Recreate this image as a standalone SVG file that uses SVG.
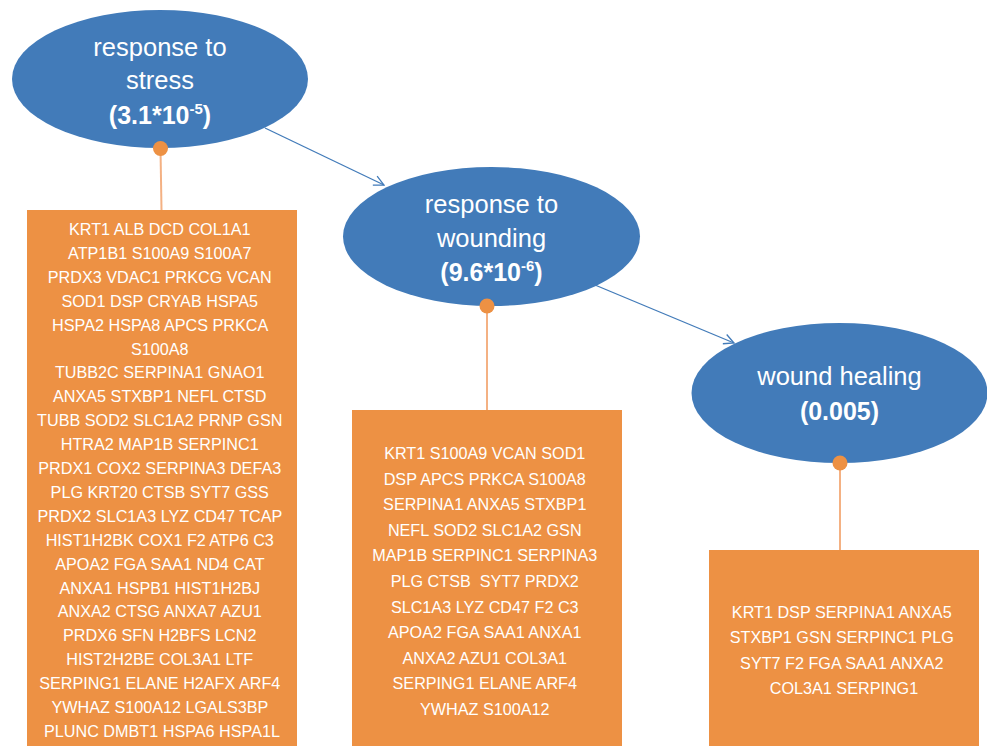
<svg xmlns="http://www.w3.org/2000/svg" width="987" height="746" viewBox="0 0 987 746">
<defs>
<style>
.ell{fill:#427BB9}
.box{fill:#ED9144}
.t{font-family:"Liberation Sans",Arial,sans-serif;fill:#fff;text-anchor:middle}
.et{font-size:25.5px}
.eb{font-size:25px;font-weight:bold}
.bt{font-size:16.2px}
.link{stroke:#F4B183;stroke-width:2;fill:none}
.dot{fill:#ED9144}
.arr{stroke:#427BB9;stroke-width:1.3;fill:none}
</style>
<marker id="ah" viewBox="0 0 12 12" refX="11" refY="6" markerWidth="12" markerHeight="12" markerUnits="userSpaceOnUse" orient="auto">
<path d="M1,1 L11,6 L1,11" fill="none" stroke="#427BB9" stroke-width="1.3"/>
</marker>
</defs>
<rect width="987" height="746" fill="#fff"/>
<g id="connectors">
<line class="arr" x1="265" y1="128" x2="384" y2="185" marker-end="url(#ah)"/>
<line class="arr" x1="595" y1="285" x2="734" y2="343" marker-end="url(#ah)"/>
<line class="link" x1="160.5" y1="149" x2="161.5" y2="210"/>
<line class="link" x1="487" y1="306" x2="487" y2="410"/>
<line class="link" x1="840" y1="463" x2="840" y2="550"/>
</g>
<g id="stress">
<ellipse class="ell" cx="160" cy="79" rx="148" ry="69"/>
<text class="t et" x="160" y="56">response to</text>
<text class="t et" x="160" y="89">stress</text>
<text class="t eb" x="160" y="124">(3.1*10<tspan font-size="15" dy="-10">-5</tspan><tspan dy="10">)</tspan></text>
<circle class="dot" cx="160.5" cy="148.5" r="7.5"/>
</g>
<g id="wounding">
<ellipse class="ell" cx="491.5" cy="236.5" rx="148.5" ry="69.5"/>
<text class="t et" x="491.5" y="213">response to</text>
<text class="t et" x="491.5" y="247">wounding</text>
<text class="t eb" x="491.5" y="281">(9.6*10<tspan font-size="15" dy="-10">-6</tspan><tspan dy="10">)</tspan></text>
<circle class="dot" cx="487" cy="306" r="7.5"/>
</g>
<g id="healing">
<ellipse class="ell" cx="839.5" cy="393" rx="148" ry="70"/>
<text class="t et" x="839.5" y="385">wound healing</text>
<text class="t eb" x="839.5" y="420">(0.005)</text>
<circle class="dot" cx="840" cy="463" r="7.5"/>
</g>
<g id="box-stress">
<rect class="box" x="27" y="210" width="270" height="540"/>
<text class="t bt">
<tspan x="162" y="235">KRT1 ALB DCD COL1A1</tspan>
<tspan x="162" y="258.9">ATP1B1 S100A9 S100A7</tspan>
<tspan x="162" y="282.8">PRDX3 VDAC1 PRKCG VCAN</tspan>
<tspan x="162" y="306.7">SOD1 DSP CRYAB HSPA5</tspan>
<tspan x="162" y="330.6">HSPA2 HSPA8 APCS PRKCA</tspan>
<tspan x="162" y="354.5">S100A8</tspan>
<tspan x="162" y="378.4">TUBB2C SERPINA1 GNAO1</tspan>
<tspan x="162" y="402.3">ANXA5 STXBP1 NEFL CTSD</tspan>
<tspan x="162" y="426.2">TUBB SOD2 SLC1A2 PRNP GSN</tspan>
<tspan x="162" y="450.1">HTRA2 MAP1B SERPINC1</tspan>
<tspan x="162" y="474">PRDX1 COX2 SERPINA3 DEFA3</tspan>
<tspan x="162" y="497.9">PLG KRT20 CTSB SYT7 GSS</tspan>
<tspan x="162" y="521.8">PRDX2 SLC1A3 LYZ CD47 TCAP</tspan>
<tspan x="162" y="545.7">HIST1H2BK COX1 F2 ATP6 C3</tspan>
<tspan x="162" y="569.6">APOA2 FGA SAA1 ND4 CAT</tspan>
<tspan x="162" y="593.5">ANXA1 HSPB1 HIST1H2BJ</tspan>
<tspan x="162" y="617.4">ANXA2 CTSG ANXA7 AZU1</tspan>
<tspan x="162" y="641.3">PRDX6 SFN H2BFS LCN2</tspan>
<tspan x="162" y="665.2">HIST2H2BE COL3A1 LTF</tspan>
<tspan x="162" y="689.1">SERPING1 ELANE H2AFX ARF4</tspan>
<tspan x="162" y="713">YWHAZ S100A12 LGALS3BP</tspan>
<tspan x="162" y="736.9">PLUNC DMBT1 HSPA6 HSPA1L</tspan>
</text>
</g>
<g id="box-wounding">
<rect class="box" x="352" y="410" width="270" height="340"/>
<text class="t bt" xml:space="preserve">
<tspan x="487" y="459">KRT1 S100A9 VCAN SOD1</tspan>
<tspan x="487" y="484.6">DSP APCS PRKCA S100A8</tspan>
<tspan x="487" y="510.2">SERPINA1 ANXA5 STXBP1</tspan>
<tspan x="487" y="535.8">NEFL SOD2 SLC1A2 GSN</tspan>
<tspan x="487" y="561.4">MAP1B SERPINC1 SERPINA3</tspan>
<tspan x="487" y="587">PLG CTSB  SYT7 PRDX2</tspan>
<tspan x="487" y="612.6">SLC1A3 LYZ CD47 F2 C3</tspan>
<tspan x="487" y="638.2">APOA2 FGA SAA1 ANXA1</tspan>
<tspan x="487" y="663.8">ANXA2 AZU1 COL3A1</tspan>
<tspan x="487" y="689.4">SERPING1 ELANE ARF4</tspan>
<tspan x="487" y="715">YWHAZ S100A12</tspan>
</text>
</g>
<g id="box-healing">
<rect class="box" x="709" y="550" width="270" height="200"/>
<text class="t bt">
<tspan x="844" y="617.5">KRT1 DSP SERPINA1 ANXA5</tspan>
<tspan x="844" y="643.1">STXBP1 GSN SERPINC1 PLG</tspan>
<tspan x="844" y="668.7">SYT7 F2 FGA SAA1 ANXA2</tspan>
<tspan x="844" y="694.3">COL3A1 SERPING1</tspan>
</text>
</g>
</svg>
